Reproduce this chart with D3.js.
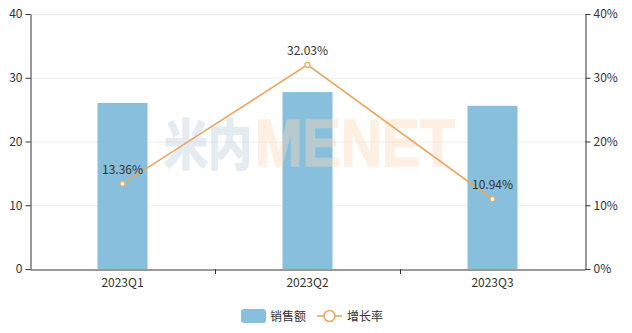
<!DOCTYPE html>
<html>
<head>
<meta charset="utf-8">
<script src="https://cdn.jsdelivr.net/npm/d3@7/dist/d3.min.js"></script>
<style>
  html, body { margin: 0; padding: 0; background: #fff; }
  svg { display: block; font-family: "Microsoft YaHei", "Noto Sans CJK SC", "Noto Sans", sans-serif; }
</style>
</head>
<body>
<script>
// Quarterly sales (left axis) and growth rate in % (right axis)
const categories = ["2023Q1", "2023Q2", "2023Q3"];
const sales = [26.05, 27.75, 25.6];
const growth = [13.36, 32.03, 10.94];
const leftTicks = [0, 10, 20, 30, 40];
const rightTicks = [0, 10, 20, 30, 40];
const seriesNames = ["销售额", "增长率"];

const W = 632, H = 333;
const margin = { top: 14, right: 47, bottom: 64, left: 30 };
const x0 = margin.left, x1 = W - margin.right;
const yTop = margin.top, yBot = H - margin.bottom;

const barColor = "#87bfdc";
const lineColor = "#eaa865";
const axisColor = "#333";
const textColor = "#333";

const svg = d3.select("body").append("svg").attr("width", W).attr("height", H);

const x = d3.scaleBand().domain(categories).range([x0, x1]);
const yL = d3.scaleLinear().domain([0, 40]).range([yBot, yTop]);
const yR = d3.scaleLinear().domain([0, 40]).range([yBot, yTop]);

// horizontal grid
svg.append("g").selectAll("line").data(leftTicks.slice(1)).join("line")
  .attr("x1", x0).attr("x2", x1)
  .attr("y1", d => yL(d) + 0.5).attr("y2", d => yL(d) + 0.5)
  .attr("stroke", "#ececec").attr("stroke-width", 1);

// bars
const barW = 50;
svg.append("g").selectAll("rect").data(sales).join("rect")
  .attr("x", (d, i) => x(categories[i]) + x.bandwidth() / 2 - barW / 2)
  .attr("width", barW)
  .attr("y", d => yL(d))
  .attr("height", d => yBot - yL(d))
  .attr("fill", barColor);

// watermark (semi-transparent, drawn over the bars)
const wm = svg.append("g").attr("font-weight", "bold").attr("pointer-events", "none")
  .attr("opacity", 0.42);
wm.append("text").attr("x", 164).attr("y", 165)
  .attr("font-size", 54).attr("textLength", 88).attr("lengthAdjust", "spacingAndGlyphs")
  .attr("fill", "#c1d3de").attr("stroke", "#c1d3de").attr("stroke-width", 1.8)
  .attr("stroke-linejoin", "round")
  .attr("font-family", "'Noto Sans CJK SC', sans-serif")
  .text("米内");
wm.append("text").attr("x", 255).attr("y", 166)
  .attr("font-size", 67).attr("textLength", 200).attr("lengthAdjust", "spacingAndGlyphs")
  .attr("fill", "#fbdabb").attr("stroke", "#fbdabb").attr("stroke-width", 1.5)
  .attr("font-family", "'Liberation Sans', Arial, sans-serif")
  .text("MENET");

// left axis
const axL = svg.append("g").attr("transform", `translate(${x0 + 0.5},0)`)
  .call(d3.axisLeft(yL).tickValues(leftTicks).tickSize(5).tickPadding(3).tickSizeOuter(0));
// right axis
const axR = svg.append("g").attr("transform", `translate(${x1 + 0.5},0)`)
  .call(d3.axisRight(yR).tickValues(rightTicks).tickSize(5).tickPadding(3).tickSizeOuter(0)
    .tickFormat(d => d + "%"));
// bottom axis with ticks on category boundaries
const axB = svg.append("g").attr("transform", `translate(0,${yBot + 0.5})`)
  .call(d3.axisBottom(x).tickSize(0).tickPadding(9).tickSizeOuter(0));
svg.append("g").selectAll("line").data(categories.slice(1)).join("line")
  .attr("x1", d => Math.round(x(d)) + 0.5).attr("x2", d => Math.round(x(d)) + 0.5)
  .attr("y1", yBot).attr("y2", yBot + 5)
  .attr("stroke", axisColor);

[axL, axR, axB].forEach(g => {
  g.selectAll(".domain").attr("stroke", axisColor);
  g.selectAll(".tick line").attr("stroke", axisColor);
  g.selectAll("text").attr("fill", textColor).attr("font-size", 12)
    .attr("font-family", "'Microsoft YaHei', 'Noto Sans CJK SC', sans-serif");
});

// growth line
const cx = (d, i) => x(categories[i]) + x.bandwidth() / 2;
svg.append("path").datum(growth)
  .attr("fill", "none").attr("stroke", lineColor).attr("stroke-width", 1.6)
  .attr("d", d3.line().x(cx).y(d => yR(d)));
svg.append("g").selectAll("circle").data(growth).join("circle")
  .attr("cx", cx).attr("cy", d => yR(d)).attr("r", 2.5)
  .attr("fill", "#fff").attr("stroke", lineColor).attr("stroke-width", 1.2);
svg.append("g").selectAll("text").data(growth).join("text")
  .attr("x", cx).attr("y", d => yR(d) - 10)
  .attr("text-anchor", "middle").attr("font-size", 12).attr("fill", textColor)
  .text(d => d.toFixed(2) + "%");

// legend
const lg = svg.append("g").attr("font-size", 12).attr("fill", textColor);
lg.append("rect").attr("x", 241).attr("y", 309).attr("width", 25).attr("height", 14).attr("rx", 3)
  .attr("fill", barColor);
lg.append("text").attr("x", 270).attr("y", 320.5).text(seriesNames[0]);
lg.append("line").attr("x1", 317).attr("x2", 342).attr("y1", 316).attr("y2", 316)
  .attr("stroke", lineColor).attr("stroke-width", 1.6);
lg.append("circle").attr("cx", 329.5).attr("cy", 316).attr("r", 5.5)
  .attr("fill", "#fff").attr("stroke", lineColor).attr("stroke-width", 1.6);
lg.append("text").attr("x", 347).attr("y", 320.5).text(seriesNames[1]);
</script>
</body>
</html>
